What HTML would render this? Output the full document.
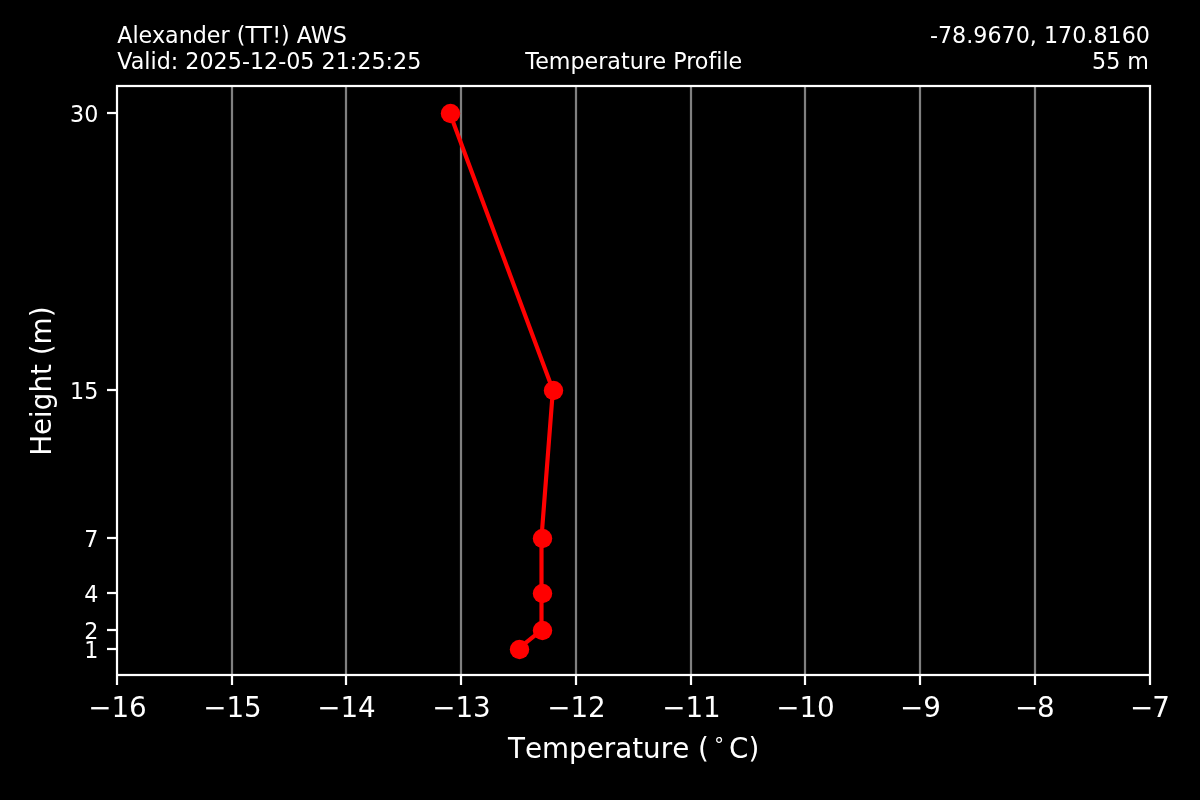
<!DOCTYPE html>
<html><head><meta charset="utf-8"><title>Temperature Profile</title>
<style>
html,body{margin:0;padding:0;background:#000;}
body{width:1200px;height:800px;overflow:hidden;position:relative;}
svg{position:absolute;left:0;top:0;display:block;}
text{font-family:"DejaVu Sans","Liberation Sans",sans-serif;fill:#fff;font-variant-ligatures:none;}
.t8{font-size:22.22px;}
.t10{font-size:27.78px;}
</style></head>
<body>
<svg width="1200" height="800" viewBox="0 0 1200 800">
<rect x="0" y="0" width="1200" height="800" fill="#000"/>
<!-- grid -->
<g fill="#808080">
<rect x="230.89" y="86" width="2.22" height="589"/>
<rect x="344.89" y="86" width="2.22" height="589"/>
<rect x="459.89" y="86" width="2.22" height="589"/>
<rect x="574.89" y="86" width="2.22" height="589"/>
<rect x="689.89" y="86" width="2.22" height="589"/>
<rect x="803.89" y="86" width="2.22" height="589"/>
<rect x="918.89" y="86" width="2.22" height="589"/>
<rect x="1033.89" y="86" width="2.22" height="589"/>
</g>
<!-- data -->
<g id="data">
<polyline points="518.5,648.6 541.5,630.1 541.5,593.2 541.5,537.7 552.9,389.9 449.7,112.7" fill="none" stroke="#f00" stroke-width="4.17" stroke-linejoin="round" stroke-linecap="butt"/>
<g fill="#f00">
<circle cx="519.5" cy="649.5" r="9.72"/>
<circle cx="542.5" cy="630.5" r="9.72"/>
<circle cx="542.5" cy="593.5" r="9.72"/>
<circle cx="542.5" cy="538.5" r="9.72"/>
<circle cx="553.5" cy="390.5" r="9.72"/>
<circle cx="450.5" cy="113.5" r="9.72"/>
</g>
</g>
<!-- ticks -->
<g fill="#fff" id="ticks">
<rect x="115.89" y="676" width="2.22" height="9"/>
<rect x="230.89" y="676" width="2.22" height="9"/>
<rect x="344.89" y="676" width="2.22" height="9"/>
<rect x="459.89" y="676" width="2.22" height="9"/>
<rect x="574.89" y="676" width="2.22" height="9"/>
<rect x="689.89" y="676" width="2.22" height="9"/>
<rect x="803.89" y="676" width="2.22" height="9"/>
<rect x="918.89" y="676" width="2.22" height="9"/>
<rect x="1033.89" y="676" width="2.22" height="9"/>
<rect x="1148.89" y="676" width="2.22" height="9"/>
<rect x="107" y="111.89" width="9" height="2.22"/>
<rect x="107" y="388.89" width="9" height="2.22"/>
<rect x="107" y="536.89" width="9" height="2.22"/>
<rect x="107" y="591.89" width="9" height="2.22"/>
<rect x="107" y="628.89" width="9" height="2.22"/>
<rect x="107" y="647.89" width="9" height="2.22"/>
</g>
<!-- spines -->
<g fill="#fff" id="spines">
<rect x="115.89" y="85" width="2.22" height="591"/>
<rect x="1148.89" y="85" width="2.22" height="591"/>
<rect x="116" y="84.89" width="1035" height="2.22"/>
<rect x="116" y="673.89" width="1035" height="2.22"/>
</g>
<g id="labels">
<text class="t8" x="117.25" y="43">Alexander (TT!) AWS</text>
<text class="t8" x="117.25" y="69">Valid: 2025-12-05 21:25:25</text>
<text class="t8" x="633.8" y="69" text-anchor="middle">Temperature Profile</text>
<text class="t8" x="1150" y="43" text-anchor="end">-78.9670, 170.8160</text>
<text class="t8" x="1149" y="69" text-anchor="end">55 m</text>
<text class="t8" x="98.4" y="122" text-anchor="end">30</text>
<text class="t8" x="98.4" y="399" text-anchor="end">15</text>
<text class="t8" x="98.4" y="547" text-anchor="end">7</text>
<text class="t8" x="98.4" y="602" text-anchor="end">4</text>
<text class="t8" x="98.4" y="639" text-anchor="end">2</text>
<text class="t8" x="98.4" y="658" text-anchor="end">1</text>
<text class="t10" x="117.5" y="717" text-anchor="middle">−16</text>
<text class="t10" x="232.5" y="717" text-anchor="middle">−15</text>
<text class="t10" x="346.5" y="717" text-anchor="middle">−14</text>
<text class="t10" x="461.5" y="717" text-anchor="middle">−13</text>
<text class="t10" x="576.5" y="717" text-anchor="middle">−12</text>
<text class="t10" x="691.5" y="717" text-anchor="middle">−11</text>
<text class="t10" x="805.5" y="717" text-anchor="middle">−10</text>
<text class="t10" x="920.5" y="717" text-anchor="middle">−9</text>
<text class="t10" x="1015 1037" y="717">−8</text>
<text class="t10" x="1130 1152.3" y="717">−7</text>
<g class="t10" style="font-kerning:none">
<text x="508" y="758">Temperature (</text>
<text x="713" y="745.5" font-size="19.44px">∘</text>
<text x="729" y="758">C)</text>
</g>
<text class="t10" transform="translate(51,381.2) rotate(-90)" text-anchor="middle">Height (m)</text>
</g>
</svg>
</body></html>
